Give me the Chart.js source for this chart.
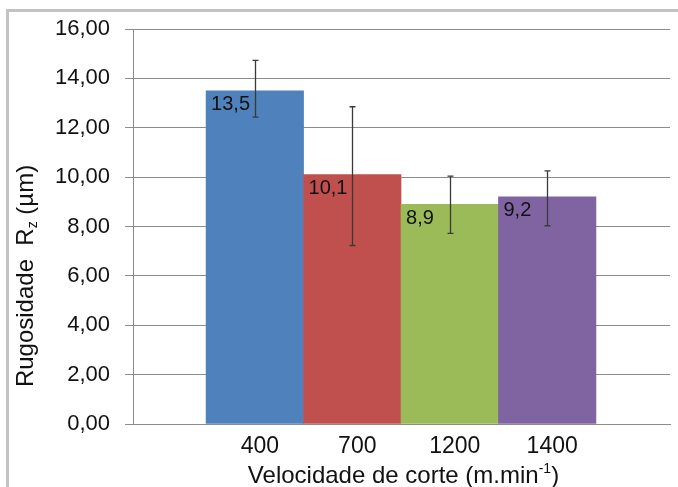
<!DOCTYPE html>
<html>
<head>
    <title>Rugosidade Rz x velocidade de corte</title>
    <script src="https://cdn.jsdelivr.net/npm/chart.js@4.4.2/dist/chart.umd.min.js"></script>
    <style>
        html, body {
            margin: 0;
            background: #ffffff;
        }
        canvas {
            display: block;
        }
    </style>
</head>
<body>
    <canvas id="rzChart" width="678" height="487"></canvas>
    <script>
        // Velocidade de corte (m/min) e rugosidade média Rz com desvio
        const speeds = ['400', '700', '1200', '1400'];
        const rzMean = [13.5, 10.1, 8.9, 9.2];
        const rzLow = [12.43, 7.23, 7.72, 8.03];
        const rzHigh = [14.73, 12.85, 10.04, 10.25];
        const yTicks = [0, 2, 4, 6, 8, 10, 12, 14, 16];

        const barColors = ['#4f81bd', '#c0504d', '#9bbb59', '#8064a2'];
        const FONT = "'Liberation Sans', Arial, sans-serif";
        const gridColor = '#8c8c8c';

        const fmt = (v, d) => v.toFixed(d).replace('.', ',');

        // draws text runs (normal / sub / superscript) centred on the origin
        function drawRuns(ctx, runs) {
            let total = 0;
            runs.forEach(r => {
                ctx.font = r.size + 'px ' + FONT;
                r.w = ctx.measureText(r.text).width;
                total += r.w;
            });
            let x = -total / 2;
            ctx.textAlign = 'left';
            ctx.textBaseline = 'alphabetic';
            runs.forEach(r => {
                ctx.font = r.size + 'px ' + FONT;
                ctx.fillText(r.text, x, r.dy || 0);
                x += r.w;
            });
        }

        const decorations = {
            id: 'decorations',
            beforeDraw(chart) {
                const ctx = chart.ctx;
                ctx.save();
                ctx.fillStyle = '#ffffff';
                ctx.fillRect(0, 0, chart.width, chart.height);
                ctx.strokeStyle = '#c3c3c3';
                ctx.lineWidth = 3;
                ctx.strokeRect(7.5, 10.5, 720, 520);
                ctx.restore();
            },
            afterDatasetsDraw(chart) {
                const ctx = chart.ctx;
                const xs = chart.scales.x;
                const ys = chart.scales.y;
                const meta = chart.getDatasetMeta(0);
                ctx.save();

                // rótulos de valor dentro das barras
                ctx.fillStyle = '#111111';
                ctx.font = '20px ' + FONT;
                ctx.textAlign = 'left';
                ctx.textBaseline = 'middle';
                meta.data.forEach((bar, i) => {
                    const left = bar.x - bar.width / 2;
                    ctx.fillText(fmt(rzMean[i], 1), left + 5, bar.y + 14);
                });

                // barras de erro
                ctx.strokeStyle = '#3a3a3a';
                ctx.lineWidth = 1.3;
                speeds.forEach((s, i) => {
                    const x = Math.round(xs.getPixelForValue(i)) + 0.5;
                    const yl = ys.getPixelForValue(rzLow[i]);
                    const yh = ys.getPixelForValue(rzHigh[i]);
                    ctx.beginPath();
                    ctx.moveTo(x, yl);
                    ctx.lineTo(x, yh);
                    ctx.moveTo(x - 3, yl);
                    ctx.lineTo(x + 3, yl);
                    ctx.moveTo(x - 3, yh);
                    ctx.lineTo(x + 3, yh);
                    ctx.stroke();
                });

                // títulos dos eixos
                ctx.fillStyle = '#111111';
                ctx.save();
                ctx.translate((chart.chartArea.left + chart.chartArea.right) / 2 + 2, 483);
                drawRuns(ctx, [
                    { text: 'Velocidade de corte (m.min', size: 24 },
                    { text: '-1', size: 14, dy: -10 },
                    { text: ')', size: 24 }
                ]);
                ctx.restore();

                ctx.save();
                ctx.translate(33, 276);
                ctx.rotate(-Math.PI / 2);
                drawRuns(ctx, [
                    { text: 'Rugosidade  R', size: 24 },
                    { text: 'z', size: 14, dy: 4 },
                    { text: ' (\u00b5m)', size: 24 }
                ]);
                ctx.restore();

                ctx.restore();
            }
        };

        new Chart(document.getElementById('rzChart'), {
            type: 'bar',
            data: {
                datasets: [{
                    data: rzMean.map((v, i) => ({ x: i, y: v })),
                    backgroundColor: barColors,
                    borderWidth: 0,
                    barPercentage: 1,
                    categoryPercentage: 1
                }]
            },
            options: {
                responsive: false,
                animation: false,
                layout: {
                    padding: { top: 29, right: 8, left: 0, bottom: 0 }
                },
                scales: {
                    x: {
                        type: 'linear',
                        offset: false,
                        min: -1.25,
                        max: 4.26,
                        afterBuildTicks: scale => {
                            scale.ticks = speeds.map((s, i) => ({ value: i }));
                        },
                        afterFit: scale => { scale.height = 487 - 424; },
                        grid: { display: false, offset: false },
                        border: { display: true, color: gridColor, width: 1 },
                        ticks: {
                            autoSkip: false,
                            maxRotation: 0,
                            labelOffset: 5,
                            padding: 1,
                            color: '#111111',
                            font: { family: FONT, size: 23 },
                            callback: (v, i) => speeds[i]
                        }
                    },
                    y: {
                        min: 0,
                        max: 16,
                        afterBuildTicks: scale => {
                            scale.ticks = yTicks.map(v => ({ value: v }));
                        },
                        afterFit: scale => { scale.width = 133; },
                        grid: {
                            color: gridColor,
                            lineWidth: 1,
                            tickLength: 8,
                            drawTicks: true
                        },
                        border: { display: true, color: gridColor, width: 1 },
                        ticks: {
                            padding: 15,
                            color: '#111111',
                            font: { family: FONT, size: 22 },
                            callback: v => fmt(v, 2)
                        }
                    }
                },
                plugins: {
                    legend: { display: false },
                    tooltip: { enabled: false }
                }
            },
            plugins: [decorations]
        });
    </script>
</body>
</html>
